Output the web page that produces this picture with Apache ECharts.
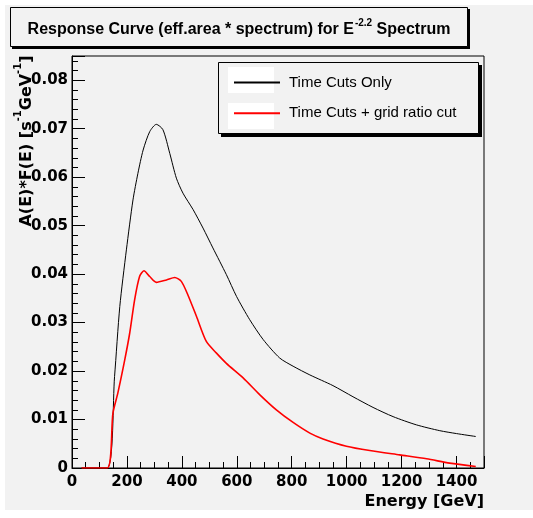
<!DOCTYPE html>
<html>
<head>
<meta charset="utf-8">
<script src="https://cdn.jsdelivr.net/npm/echarts@6/dist/echarts.min.js"></script>
<style>
  html, body { margin: 0; padding: 0; background: #fff; }
  #chart { width: 533px; height: 518px; }
</style>
</head>
<body>
<div id="chart"></div>
<script>
// energies [GeV] and response values
const energyBlack = [35, 128, 155, 174, 198, 222, 240, 259, 283, 307, 331, 356, 380, 404, 441, 477, 513, 562, 599, 647, 696, 756, 805, 866, 950, 1023, 1096, 1169, 1254, 1339, 1400, 1470]
const fluxBlack = [0, 0, 0.0189, 0.0333, 0.045, 0.0553, 0.0608, 0.0656, 0.0694, 0.0709, 0.0698, 0.0649, 0.0598, 0.0567, 0.0533, 0.0495, 0.0454, 0.0399, 0.0354, 0.0306, 0.0265, 0.0227, 0.0210, 0.0192, 0.0170, 0.0147, 0.0125, 0.0106, 0.0089, 0.0077, 0.0071, 0.0065]

const energyRed = [35, 128, 149, 167, 192, 210, 228, 246, 262, 283, 307, 344, 374, 398, 422, 453, 489, 526, 562, 623, 684, 744, 805, 866, 914, 999, 1084, 1193, 1291, 1375, 1470]
const fluxRed = [0, 0, 0.0113, 0.0155, 0.0223, 0.0278, 0.0347, 0.0395, 0.0407, 0.0395, 0.0383, 0.0388, 0.0393, 0.0385, 0.0357, 0.0313, 0.0261, 0.0237, 0.0216, 0.0186, 0.0151, 0.012, 0.0094, 0.0072, 0.006, 0.0045, 0.0036, 0.0027, 0.0019, 0.001, 0.0003]

const seriesNames = ['Time Cuts Only', 'Time Cuts + grid ratio cut']

const zip = (xs, ys) => xs.map((x, i) => [x, ys[i]])

const chart = echarts.init(document.getElementById('chart'))

const labelFont = {
  color: '#000',
  fontFamily: 'DejaVu Sans',
  fontWeight: 'bold',
  fontSize: 15
}

chart.setOption({
  backgroundColor: '#f2f2f2',
  animation: false,
  graphic: [
    // white margin at top/left/bottom
    { type: 'rect', z: 100, silent: true, shape: { x: 0, y: 0, width: 533, height: 5 }, style: { fill: '#fff' } },
    { type: 'rect', z: 100, silent: true, shape: { x: 0, y: 0, width: 5, height: 518 }, style: { fill: '#fff' } },
    { type: 'rect', z: 100, silent: true, shape: { x: 0, y: 510, width: 533, height: 8 }, style: { fill: '#fff' } },
    // title box + shadow
    { type: 'rect', z: 50, shape: { x: 12, y: 9, width: 458, height: 40 }, style: { fill: '#000' } },
    { type: 'rect', z: 51, shape: { x: 10.5, y: 7.5, width: 457, height: 39 }, style: { fill: '#f2f2f2', stroke: '#000', lineWidth: 1 } },
    {
      type: 'text',
      z: 52,
      x: 239,
      y: 28,
      style: {
        text: '{t|Response Curve (eff.area * spectrum) for E}{s|-2.2}{t| Spectrum}',
        align: 'center',
        verticalAlign: 'middle',
        rich: {
          t: { fontFamily: 'Liberation Sans', fontWeight: 'bold', fontSize: 16, fill: '#000', lineHeight: 20, verticalAlign: 'bottom' },
          s: { fontFamily: 'Liberation Sans', fontWeight: 'bold', fontSize: 10, fill: '#000', lineHeight: 20, verticalAlign: 'top', padding: [0, 0, 0, 1] }
        }
      }
    },
    // legend box + shadow + white sample boxes
    { type: 'rect', z: 50, shape: { x: 221, y: 65, width: 261, height: 72 }, style: { fill: '#000' } },
    { type: 'rect', z: 51, shape: { x: 218.5, y: 62.5, width: 260, height: 71 }, style: { fill: '#f2f2f2', stroke: '#000', lineWidth: 1 } },
    { type: 'rect', z: 52, shape: { x: 228, y: 67, width: 46, height: 26 }, style: { fill: '#fff' } },
    { type: 'rect', z: 52, shape: { x: 228, y: 103, width: 46, height: 26 }, style: { fill: '#fff' } },
    // y axis title
    {
      type: 'text',
      z: 52,
      x: 24,
      y: 141,
      rotation: Math.PI / 2,
      style: {
        text: '{t|A(E)*F(E) [s}{s|-1}{t|GeV}{s|-1}{t|]}',
        align: 'center',
        verticalAlign: 'middle',
        rich: {
          t: { fontFamily: 'DejaVu Sans', fontWeight: 'bold', fontSize: 16, fill: '#000', lineHeight: 22, verticalAlign: 'bottom' },
          s: { fontFamily: 'DejaVu Sans', fontWeight: 'bold', fontSize: 10, fill: '#000', lineHeight: 22, verticalAlign: 'top' }
        }
      }
    }
  ],
  legend: {
    orient: 'vertical',
    left: 228,
    top: 67,
    itemWidth: 46,
    itemHeight: 26,
    itemGap: 10,
    z: 60,
    data: seriesNames,
    itemStyle: { opacity: 0 },
    textStyle: {
      color: '#000',
      fontFamily: 'Liberation Sans',
      fontSize: 15,
      padding: [0, 0, 0, 4]
    }
  },
  grid: {
    left: 72,
    right: 49,
    top: 56,
    bottom: 50,
    show: true,
    backgroundColor: 'transparent',
    borderColor: '#000',
    borderWidth: 1
  },
  xAxis: {
    type: 'value',
    min: 0,
    max: 1500,
    interval: 200,
    name: 'Energy [GeV]',
    nameLocation: 'end',
    nameGap: 0,
    nameTextStyle: {
      color: '#000',
      fontFamily: 'DejaVu Sans',
      fontWeight: 'bold',
      fontSize: 16,
      align: 'right',
      verticalAlign: 'top',
      padding: [26, 0, 0, 0]
    },
    splitLine: { show: false },
    axisLine: { show: true, lineStyle: { color: '#000', width: 1 } },
    axisTick: { show: true, inside: true, length: 12, lineStyle: { color: '#000', width: 1 } },
    minorTick: { show: true, splitNumber: 4, length: 6, lineStyle: { color: '#000', width: 1 } },
    axisLabel: Object.assign({ margin: 7, showMaxLabel: false, formatter: v => String(v) }, labelFont)
  },
  yAxis: {
    type: 'value',
    min: 0,
    max: 0.085,
    interval: 0.01,
    splitLine: { show: false },
    axisLine: { show: true, lineStyle: { color: '#000', width: 1 } },
    axisTick: { show: true, inside: true, length: 13, lineStyle: { color: '#000', width: 1 } },
    minorTick: { show: true, splitNumber: 5, length: 6, lineStyle: { color: '#000', width: 1 } },
    axisLabel: Object.assign({
      margin: 4,
      showMaxLabel: false,
      formatter: v => (v === 0 ? '0' : v.toFixed(2))
    }, labelFont)
  },
  series: [
    {
      name: seriesNames[0],
      type: 'line',
      symbol: 'none',
      smooth: 0.25,
      data: zip(energyBlack, fluxBlack),
      lineStyle: { color: '#000', width: 1 },
      itemStyle: { color: '#000' },
      z: 3
    },
    {
      name: seriesNames[1],
      type: 'line',
      symbol: 'none',
      smooth: 0.25,
      data: zip(energyRed, fluxRed),
      lineStyle: { color: '#ff0000', width: 1.6 },
      itemStyle: { color: '#ff0000' },
      z: 4
    }
  ]
})
</script>
</body>
</html>
